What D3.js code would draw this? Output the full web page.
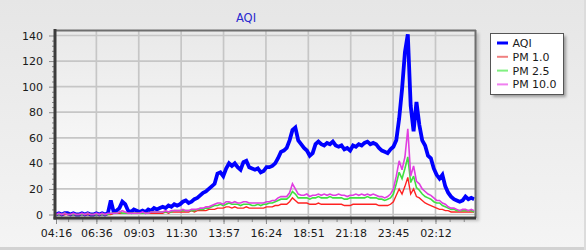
<!DOCTYPE html>
<html>
<head>
<meta charset="utf-8">
<script src="https://cdn.jsdelivr.net/npm/d3@7/dist/d3.min.js"></script>
<style>
  html, body { margin: 0; padding: 0; background: #ececec; }
  svg { display: block; font-family: "DejaVu Sans", Verdana, sans-serif; }
</style>
</head>
<body>
<svg id="chart" width="586" height="250"></svg>
<script>
// ---------------- DATA ----------------
const chartTitle = "AQI";
const startTime = "04:16";      // first sample
const stepMinutes = 10;         // sampling interval
const endMinutes = 1453;        // axis end (minutes after start)

const seriesNames = ["AQI", "PM 1.0", "PM 2.5", "PM 10.0"];

const aqi = [
  0,1,0,1,1,0,1,0,0,1,0,1,0,0,1,0,1,0,
  1,11,2,3,5,10,8,3,
  2,4,3,2,3,2,4,3,5,4,
  5,6,5,7,6,8,7,8,10,11,
  9,10,12,13,15,17,18,20,22,24,
  32,33,30,36,40,38,40,37,35,41,
  42,37,36,35,36,33,34,37,37,38,
  40,44,49,50,52,58,66,68,58,55,
  52,50,46,48,55,57,55,54,56,55,
  57,54,53,54,51,52,50,54,53,55,
  54,56,57,55,56,55,52,50,49,48,
  51,53,58,75,98,127,141,85,65,88,
  70,58,54,46,44,36,31,28,31,22,
  17,14,12,11,10,11,14,12,13,12
];
const pm1 = [
  0,0,0,0,0,0,0,0,0,0,0,0,0,0,0,0,0,0,
  0,0,1,1,1,1,1,1,
  1,1,1,1,1,1,1,1,1,1,
  1,1,2,1,2,2,2,2,2,2,
  2,3,2,3,3,3,3,4,4,4,
  5,5,5,6,6,5,6,5,5,5,
  6,5,5,5,5,5,5,6,6,6,
  7,7,8,8,8,10,13,11,9,9,
  9,9,8,8,8,9,8,8,8,8,
  8,8,8,8,7,7,7,8,8,8,
  8,8,8,8,8,8,7,7,7,7,
  8,10,15,20,16,22,29,16,20,14,
  13,11,9,8,7,6,5,4,4,3,
  3,2,2,2,2,2,2,2,2,2
];
const pm25 = [
  0,0,0,1,0,0,0,0,0,0,0,1,0,0,0,0,0,0,
  0,1,1,1,2,1,1,1,
  1,1,1,1,1,1,1,2,2,2,
  2,2,2,2,2,3,3,3,3,3,
  3,3,3,4,4,4,5,5,6,7,
  7,8,7,8,9,8,8,8,7,8,
  8,8,7,7,8,7,8,8,9,9,
  10,11,12,12,12,14,18,16,13,13,
  13,13,12,13,13,14,13,13,13,14,
  13,13,13,13,12,12,13,13,13,13,
  13,13,14,13,13,13,12,12,11,12,
  13,16,24,33,28,36,45,25,30,21,
  19,16,14,13,12,10,9,9,7,6,
  5,4,4,3,3,3,3,3,3,2
];
const pm10 = [
  0,1,0,1,0,0,1,0,0,1,0,1,0,0,1,0,1,0,
  1,1,1,1,2,3,2,1,
  1,1,1,1,2,1,1,2,2,2,
  2,2,3,2,3,3,3,3,4,3,
  3,4,4,4,5,5,6,6,7,8,
  9,9,8,10,10,9,10,9,9,10,
  10,9,9,9,9,9,9,10,10,11,
  11,13,14,14,14,17,24,20,16,15,
  15,16,14,15,15,16,15,16,15,16,
  15,15,16,15,15,14,15,15,16,15,
  16,15,16,15,16,15,14,14,13,14,
  16,20,30,42,35,45,67,30,38,26,
  24,20,18,16,15,13,11,11,9,8,
  6,5,5,4,3,4,4,3,4,3
];

const xTickLabels = ["04:16","06:36","09:03","11:30","13:57","16:24","18:51","21:18","23:45","02:12"];
const yTickValues = [0,20,40,60,80,100,120,140];

// ---------------- STYLE / LAYOUT ----------------
const W = 586, H = 250;
const plot = { left: 55, top: 30, right: 476, bottom: 218 };
const lineColors = ["#0000ff", "#ff2222", "#3fe03f", "#e03ee0"];
const legendColors = ["#0000ff", "#f08080", "#80f080", "#f080f0"];
const lineWidths = [3.8, 1.4, 1.6, 1.6];

const toMin = s => { const [h, m] = s.split(":").map(Number); return h * 60 + m; };
const start = toMin(startTime);
const relMin = s => ((toMin(s) - start) % 1440 + 1440) % 1440;

const svg = d3.select("#chart");
const defs = svg.append("defs");

const bgGrad = defs.append("linearGradient").attr("id", "bgGrad").attr("x1", 0).attr("y1", 0).attr("x2", 0).attr("y2", 1);
bgGrad.append("stop").attr("offset", "0%").attr("stop-color", "#e6e6e6");
bgGrad.append("stop").attr("offset", "100%").attr("stop-color", "#f4f4f4");

const plotGrad = defs.append("linearGradient").attr("id", "plotGrad").attr("x1", 0).attr("y1", 0).attr("x2", 0).attr("y2", 1);
plotGrad.append("stop").attr("offset", "0%").attr("stop-color", "#e9e9e9");
plotGrad.append("stop").attr("offset", "100%").attr("stop-color", "#ffffff");

const blur = defs.append("filter").attr("id", "shadow").attr("x", "-10%").attr("y", "-10%").attr("width", "130%").attr("height", "130%");
blur.append("feGaussianBlur").attr("stdDeviation", 1.5);

defs.append("clipPath").attr("id", "plotClip")
  .append("rect").attr("x", plot.left).attr("y", plot.top)
  .attr("width", plot.right - plot.left).attr("height", plot.bottom - plot.top);

// background
svg.append("rect").attr("width", W).attr("height", H).attr("fill", "url(#bgGrad)");
svg.append("rect").attr("x", 0).attr("y", H - 3).attr("width", W).attr("height", 3).attr("fill", "#d2d2d2");
svg.append("rect").attr("x", W - 2).attr("y", 0).attr("width", 2).attr("height", H).attr("fill", "#dcdcdc");

// scales
const x = d3.scaleLinear().domain([0, endMinutes]).range([56, 475]);
const y = d3.scaleLinear().domain([0, 140]).range([214.5, 35.5]);

// plot shadow + background
svg.append("rect").attr("x", plot.left + 3).attr("y", plot.top + 3)
  .attr("width", plot.right - plot.left).attr("height", plot.bottom - plot.top)
  .attr("fill", "#bdbdbd").attr("filter", "url(#shadow)");
svg.append("rect").attr("x", plot.left).attr("y", plot.top)
  .attr("width", plot.right - plot.left).attr("height", plot.bottom - plot.top)
  .attr("fill", "url(#plotGrad)");

// grid
const xMajor = xTickLabels.map(relMin);
const grid = svg.append("g");
grid.selectAll("line.h").data(yTickValues).join("line")
  .attr("x1", plot.left).attr("x2", plot.right)
  .attr("y1", d => y(d)).attr("y2", d => y(d))
  .attr("stroke", "#c6c6c6").attr("stroke-width", 1.7);
grid.selectAll("line.v").data(xMajor.slice(1)).join("line")
  .attr("x1", d => x(d)).attr("x2", d => x(d))
  .attr("y1", plot.top).attr("y2", plot.bottom)
  .attr("stroke", "#c6c6c6").attr("stroke-width", 1.7);

// series
const allSeries = [aqi, pm1, pm25, pm10];
const line = d3.line().x((d, i) => x(i * stepMinutes)).y(d => y(d));
const lines = svg.append("g").attr("clip-path", "url(#plotClip)");
allSeries.forEach((s, k) => {
  lines.append("path").datum(s).attr("d", line)
    .attr("fill", "none").attr("stroke", lineColors[k])
    .attr("stroke-width", lineWidths[k]).attr("stroke-linejoin", "miter").attr("stroke-miterlimit", 3);
});

// frame
svg.append("line").attr("x1", plot.left).attr("x2", plot.right).attr("y1", plot.top + 0.5).attr("y2", plot.top + 0.5)
  .attr("stroke", "#6e6e6e").attr("stroke-width", 2);
svg.append("line").attr("x1", plot.right - 0.5).attr("x2", plot.right - 0.5).attr("y1", plot.top).attr("y2", plot.bottom)
  .attr("stroke", "#6e6e6e").attr("stroke-width", 2);

// y axis
const yMinor = d3.range(0, 141, 4).filter(v => v % 20 !== 0);
const yAxisG = svg.append("g").attr("transform", `translate(${plot.left},0)`);
yAxisG.call(d3.axisLeft(y).tickValues(yMinor).tickFormat("").tickSize(3));
const yAxisMajor = svg.append("g").attr("transform", `translate(${plot.left},0)`)
  .call(d3.axisLeft(y).tickValues(yTickValues).tickSize(6).tickPadding(6));
[yAxisG, yAxisMajor].forEach(g => {
  g.select(".domain").remove();
  g.selectAll(".tick line").attr("stroke", "#8a8a8a");
});
yAxisMajor.selectAll("text").attr("font-size", 11).attr("fill", "#1a1a1a")
  .attr("font-family", "'DejaVu Sans', Verdana, sans-serif");

// x axis
const xMinor = [];
const stepTick = xMajor[2] - xMajor[1];
for (let v = xMajor[1] - stepTick / 3; v >= 0; v -= stepTick / 3) xMinor.push(v);
for (let v = xMajor[1]; v <= endMinutes; v += stepTick / 3) xMinor.push(v);
const xAxisMinor = svg.append("g").attr("transform", `translate(0,${plot.bottom})`)
  .call(d3.axisBottom(x).tickValues(xMinor).tickFormat("").tickSize(4));
const xAxisMajor = svg.append("g").attr("transform", `translate(0,${plot.bottom})`)
  .call(d3.axisBottom(x).tickValues(xMajor).tickFormat((d, i) => xTickLabels[i]).tickSize(6).tickPadding(5));
[xAxisMinor, xAxisMajor].forEach(g => {
  g.select(".domain").remove();
  g.selectAll(".tick line").attr("stroke", "#8a8a8a");
});
xAxisMajor.selectAll("text").attr("font-size", 11).attr("fill", "#1a1a1a")
  .attr("font-family", "'DejaVu Sans', Verdana, sans-serif");

// axis lines (thick)
svg.append("line").attr("x1", plot.left).attr("x2", plot.left).attr("y1", plot.top - 1).attr("y2", plot.bottom + 1.5)
  .attr("stroke", "#3c3c3c").attr("stroke-width", 3);
svg.append("line").attr("x1", plot.left - 1.5).attr("x2", plot.right).attr("y1", plot.bottom).attr("y2", plot.bottom)
  .attr("stroke", "#3c3c3c").attr("stroke-width", 3);

// title
svg.append("text").attr("x", 246).attr("y", 22).attr("text-anchor", "middle")
  .attr("font-size", 11.5).attr("fill", "#2a2ad0").text(chartTitle);

// legend
const lg = { x: 490.5, y: 33.5, w: 73, h: 61 };
svg.append("rect").attr("x", lg.x + 2.5).attr("y", lg.y + 2.5).attr("width", lg.w).attr("height", lg.h)
  .attr("fill", "#9a9a9a").attr("filter", "url(#shadow)");
svg.append("rect").attr("x", lg.x).attr("y", lg.y).attr("width", lg.w).attr("height", lg.h)
  .attr("fill", "#ffffff").attr("stroke", "#555").attr("stroke-width", 1);
const items = svg.append("g").selectAll("g").data(seriesNames).join("g")
  .attr("transform", (d, i) => `translate(0,${43 + i * 13.8})`);
items.append("line").attr("x1", 497).attr("x2", 508).attr("y1", 0).attr("y2", 0)
  .attr("stroke", (d, i) => legendColors[i]).attr("stroke-width", (d, i) => i === 0 ? 3 : 2);
items.append("text").attr("x", 512.5).attr("y", 4).attr("font-size", 11).attr("fill", "#1a1a1a")
  .text(d => d);
</script>
</body>
</html>
